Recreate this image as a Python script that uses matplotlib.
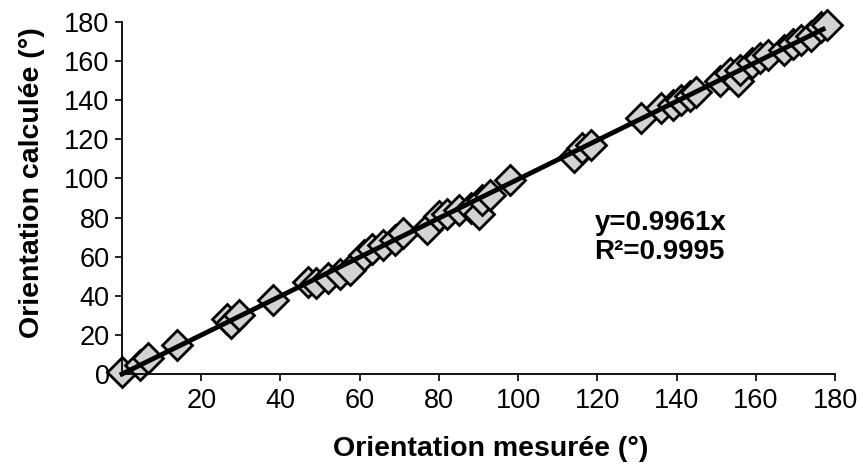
import numpy as np
import matplotlib
matplotlib.use('Agg')
import matplotlib.pyplot as plt

# measured vs calculated orientation (degrees)
measured = [0, 4.5, 6.5, 14, 26.5, 27.5, 29.5, 38, 47, 49, 52, 55, 57.5,
            61, 63, 66, 69, 71, 77, 80, 82, 85, 88, 90, 91, 93, 98,
            114, 116, 118.5, 131, 136, 139, 141, 143.5, 145,
            151, 153.5, 155.5, 156, 159, 161, 163, 167, 169.5, 171.5,
            174, 176.5, 178]
calculated = [1, 4.5, 8, 15, 28, 26, 30, 38, 47, 46.5, 49, 51, 53,
              61, 64, 66, 68.5, 72, 74, 81, 82, 84, 85, 82, 89, 91.5, 99,
              111, 115.5, 117, 131, 136, 137.5, 140, 142, 144,
              150, 154, 150, 155.5, 159, 161.5, 163, 165.5, 168.5, 171,
              173, 177.5, 178.5]
slope = 0.9961
r2 = 0.9995

xticks = [20, 40, 60, 80, 100, 120, 140, 160, 180]
yticks = [0, 20, 40, 60, 80, 100, 120, 140, 160, 180]

plt.rcParams['font.family'] = ['Liberation Sans', 'DejaVu Sans']

fig = plt.figure(figsize=(8.63, 4.66), dpi=100)
ax = fig.add_axes([0.1414, 0.1974, 0.8262, 0.7554])

ax.plot(measured, calculated, linestyle='none', marker='D', markersize=15,
        markerfacecolor='#d3d3d3', markeredgecolor='black', markeredgewidth=2,
        clip_on=False, zorder=2)

xfit = np.array([0, max(measured) - 1])
ax.plot(xfit, slope * xfit, color='black', linewidth=3.5, zorder=3, clip_on=False)

ax.set_xlim(0, 180)
ax.set_ylim(0, 180)
ax.set_xticks(xticks)
ax.set_yticks(yticks)
ax.tick_params(axis='both', direction='out', length=5, width=1.2,
               labelsize=19.5, color='black')
ax.tick_params(axis='x', pad=5)
ax.tick_params(axis='y', pad=4)

ax.spines['top'].set_visible(False)
ax.spines['right'].set_visible(False)
ax.spines['left'].set_linewidth(1.3)
ax.spines['bottom'].set_linewidth(1.3)

ax.set_xlabel('Orientation mesurée (°)', fontsize=20.5, fontweight='bold')
ax.set_ylabel('Orientation calculée (°)', fontsize=20.5, fontweight='bold')
ax.xaxis.set_label_coords(0.5175, -0.176)
ax.yaxis.set_label_coords(-0.108, 0.545)

ax.text(119.3, 70, 'y=%.4fx\nR²=%.4f' % (slope, r2), fontsize=20,
        fontweight='bold', ha='left', va='center', linespacing=1.15)

fig.savefig('out.png', dpi=100)
